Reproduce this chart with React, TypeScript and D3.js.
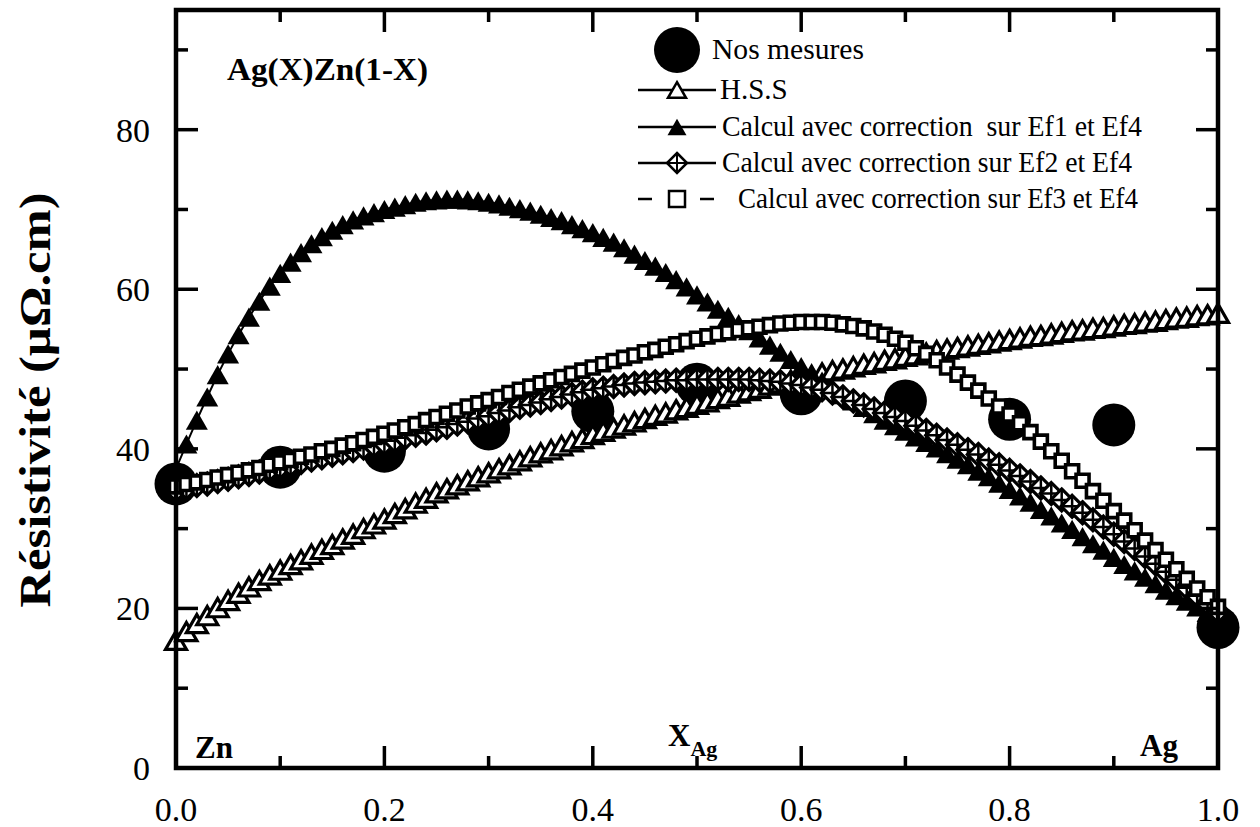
import React from 'react';
import * as d3 from 'd3';

// ---------- data ----------
const measuredX = [0, 0.1, 0.2, 0.3, 0.4, 0.5, 0.6, 0.7, 0.8, 0.9, 1.0];
const measuredY = [35.6, 37.7, 39.7, 42.5, 44.7, 48.1, 46.9, 46.0, 43.7, 43.0, 17.6];

// composition grid of the calculated curves (step 0.01)
const calcX = d3.range(101).map((i) => i / 100);

const hss = [16.0,17.1,18.1,19.1,20.1,21.0,21.9,22.7,23.5,24.2,24.8,
  25.5,26.1,26.8,27.4,28.0,28.7,29.3,30.0,30.6,31.2,
  31.9,32.5,33.2,33.8,34.5,35.0,35.5,36.0,36.5,37.0,
  37.5,38.0,38.5,39.0,39.5,39.9,40.4,40.9,41.3,41.8,
  42.2,42.6,43.0,43.4,43.8,44.2,44.5,44.9,45.2,45.6,
  45.9,46.3,46.6,47.0,47.3,47.6,48.0,48.3,48.6,48.9,
  49.2,49.5,49.8,50.0,50.3,50.6,50.8,51.1,51.3,51.6,
  51.8,52.0,52.3,52.5,52.7,52.9,53.1,53.3,53.5,53.7,
  53.9,54.1,54.2,54.4,54.6,54.8,54.9,55.1,55.2,55.4,
  55.6,55.7,55.9,56.0,56.2,56.4,56.5,56.7,56.8,57.0];

const ef1 = [37.5,40.6,43.6,46.5,49.3,51.9,54.3,56.5,58.5,60.4,62.0,
  63.4,64.6,65.7,66.6,67.4,68.1,68.7,69.2,69.6,70.0,
  70.3,70.6,70.9,71.1,71.2,71.3,71.3,71.2,71.1,70.9,
  70.7,70.4,70.1,69.8,69.4,69.0,68.6,68.1,67.6,67.1,
  66.5,65.9,65.2,64.4,63.6,62.9,62.1,61.2,60.3,59.3,
  58.4,57.5,56.6,55.7,54.8,53.9,53.0,52.1,51.2,50.3,
  49.4,48.5,47.6,46.8,46.0,45.2,44.4,43.6,42.9,42.2,
  41.5,40.8,40.1,39.4,38.7,38.0,37.2,36.5,35.7,34.9,
  34.1,33.3,32.4,31.6,30.7,29.9,29.0,28.1,27.3,26.4,
  25.5,24.7,23.9,23.1,22.3,21.6,20.9,20.2,19.5,18.8];

const ef2 = [34.8,35.1,35.4,35.6,35.9,36.2,36.5,36.8,37.1,37.4,37.7,
  38.0,38.3,38.6,38.9,39.2,39.5,39.8,40.1,40.4,40.7,
  41.0,41.4,41.7,42.0,42.4,42.7,43.1,43.4,43.8,44.1,
  44.5,44.8,45.2,45.5,45.8,46.2,46.5,46.8,47.1,47.4,
  47.6,47.8,48.0,48.2,48.3,48.4,48.5,48.6,48.6,48.7,
  48.7,48.7,48.7,48.7,48.7,48.6,48.5,48.4,48.2,48.0,
  47.7,47.4,47.0,46.5,46.0,45.5,45.0,44.5,44.0,43.5,
  42.9,42.3,41.7,41.1,40.5,39.9,39.3,38.6,38.0,37.3,
  36.6,35.9,35.1,34.4,33.6,32.8,32.0,31.1,30.2,29.3,
  28.4,27.5,26.5,25.6,24.6,23.6,22.6,21.6,20.6,19.6];

const ef3 = [35.3,35.6,35.8,36.1,36.4,36.7,37.0,37.3,37.6,38.0,38.3,
  38.6,39.0,39.3,39.7,40.0,40.4,40.7,41.1,41.5,41.9,
  42.3,42.7,43.1,43.6,44.0,44.4,44.8,45.3,45.7,46.1,
  46.5,47.0,47.4,47.8,48.2,48.6,49.0,49.4,49.8,50.2,
  50.6,51.0,51.4,51.7,52.1,52.4,52.8,53.1,53.5,53.8,
  54.1,54.4,54.6,54.9,55.1,55.3,55.5,55.7,55.8,55.9,
  55.9,55.9,55.8,55.6,55.4,55.1,54.7,54.3,53.8,53.3,
  52.6,51.9,51.1,50.2,49.3,48.3,47.3,46.3,45.3,44.3,
  43.2,42.1,40.9,39.7,38.5,37.2,36.0,34.7,33.5,32.2,
  31.0,29.8,28.5,27.3,26.1,24.9,23.7,22.5,21.4,20.2];

const xTicksMajor = [0, 0.2, 0.4, 0.6, 0.8, 1.0];
const xTicksMinor = [0.1, 0.3, 0.5, 0.7, 0.9];
const xTickLabels = ['0.0', '0.2', '0.4', '0.6', '0.8', '1.0'];
const yTicksMajor = [0, 20, 40, 60, 80];
const yTicksMinor = [10, 30, 50, 70, 90];
const yTickLabels = ['0', '20', '40', '60', '80'];

const legendLabels = [
  'Nos mesures',
  'H.S.S',
  'Calcul avec correction  sur Ef1 et Ef4',
  'Calcul avec correction sur Ef2 et Ef4',
  'Calcul avec correction sur Ef3 et Ef4',
];

const FONT = '"Liberation Serif", "Times New Roman", Times, serif';

function triPath(cx: number, cy: number, s: number) {
  const h = s * 0.87;
  return `M${cx},${cy - h / 2}L${cx + s / 2},${cy + h / 2}L${cx - s / 2},${cy + h / 2}Z`;
}
function diaPath(cx: number, cy: number, r: number) {
  return `M${cx},${cy - r}L${cx + r},${cy}L${cx},${cy + r}L${cx - r},${cy}Z`;
}
function crossPath(cx: number, cy: number, r: number) {
  return `M${cx - r},${cy}H${cx + r}M${cx},${cy - r}V${cy + r}`;
}
function sqPath(cx: number, cy: number, s: number) {
  return `M${cx - s / 2},${cy - s / 2}h${s}v${s}h${-s}Z`;
}

export default function App() {
  const x = d3.scaleLinear().domain([0, 1]).range([176, 1218]);
  const y = d3.scaleLinear().domain([0, 95]).range([768, 10]);
  const [x0, x1] = x.range();
  const [yb, yt] = y.range();

  const pts = (vals: number[]) => calcX.map((v, i) => [x(v), y(vals[i])] as [number, number]);
  const line = d3.line<[number, number]>();

  const hssP = pts(hss);
  const ef1P = pts(ef1);
  const ef2P = pts(ef2);
  const ef3P = pts(ef3);

  const legX = 677;
  const legRows = [50, 90, 127, 163, 199];

  return (
    <svg width={1260} height={827} style={{ position: 'absolute', left: 0, top: 0, background: '#fff' }}
      fontFamily={FONT}>
      <rect x={0} y={0} width={1260} height={827} fill="#fff" />

      {/* measured points */}
      {measuredX.map((v, i) => (
        <circle key={'m' + i} cx={x(v)} cy={y(measuredY[i])} r={21.5} fill="#000" />
      ))}

      {/* H.S.S */}
      <path d={line(hssP) || ''} fill="none" stroke="#000" strokeWidth={2} />
      {hssP.map(([px, py], i) => (
        <path key={'h' + i} d={triPath(px, py, 21)} fill="#fff" stroke="#000" strokeWidth={3.2} strokeLinejoin="miter" />
      ))}

      {/* Ef1 */}
      <path d={line(ef1P) || ''} fill="none" stroke="#000" strokeWidth={2} />
      {ef1P.map(([px, py], i) => (
        <path key={'a' + i} d={triPath(px, py, 22)} fill="#000" />
      ))}

      {/* Ef2 */}
      <path d={line(ef2P) || ''} fill="none" stroke="#000" strokeWidth={2} />
      {ef2P.map(([px, py], i) => (
        <g key={'b' + i}>
          <path d={diaPath(px, py, 11)} fill="#fff" stroke="#000" strokeWidth={3.2} />
          <path d={crossPath(px, py, 11)} stroke="#000" strokeWidth={2.5} />
        </g>
      ))}

      {/* Ef3 */}
      <path d={line(ef3P) || ''} fill="none" stroke="#000" strokeWidth={2} strokeDasharray="6,6" />
      {ef3P.map(([px, py], i) => (
        <path key={'c' + i} d={sqPath(px, py, 13)} fill="#fff" stroke="#000" strokeWidth={3.6} />
      ))}

      {/* frame */}
      <rect x={x0} y={yt} width={x1 - x0} height={yb - yt} fill="none" stroke="#000" strokeWidth={4.5} />

      {/* ticks */}
      {xTicksMajor.map((v) => (
        <g key={'xt' + v}>
          <line x1={x(v)} x2={x(v)} y1={yb} y2={yb - 22} stroke="#000" strokeWidth={3.5} />
          <line x1={x(v)} x2={x(v)} y1={yt} y2={yt + 22} stroke="#000" strokeWidth={3.5} />
        </g>
      ))}
      {xTicksMinor.map((v) => (
        <g key={'xm' + v}>
          <line x1={x(v)} x2={x(v)} y1={yb} y2={yb - 12} stroke="#000" strokeWidth={3.5} />
          <line x1={x(v)} x2={x(v)} y1={yt} y2={yt + 12} stroke="#000" strokeWidth={3.5} />
        </g>
      ))}
      {yTicksMajor.map((v) => (
        <g key={'yt' + v}>
          <line x1={x0} x2={x0 + 22} y1={y(v)} y2={y(v)} stroke="#000" strokeWidth={3.5} />
          <line x1={x1} x2={x1 - 22} y1={y(v)} y2={y(v)} stroke="#000" strokeWidth={3.5} />
        </g>
      ))}
      {yTicksMinor.map((v) => (
        <g key={'ym' + v}>
          <line x1={x0} x2={x0 + 12} y1={y(v)} y2={y(v)} stroke="#000" strokeWidth={3.5} />
          <line x1={x1} x2={x1 - 12} y1={y(v)} y2={y(v)} stroke="#000" strokeWidth={3.5} />
        </g>
      ))}

      {/* tick labels */}
      {xTicksMajor.map((v, i) => (
        <text key={'xl' + v} x={x(v)} y={821} textAnchor="middle" fontSize={34}>{xTickLabels[i]}</text>
      ))}
      {yTicksMajor.map((v, i) => (
        <text key={'yl' + v} x={150} y={y(v) + 12} textAnchor="end" fontSize={34}>{yTickLabels[i]}</text>
      ))}

      {/* axis title */}
      <text transform="translate(50,400) rotate(-90)" textAnchor="middle" fontSize={44} fontWeight="bold"
        textLength={415} lengthAdjust="spacingAndGlyphs">Résistivité (µΩ.cm)</text>

      {/* annotations */}
      <text x={227} y={80} fontSize={32} fontWeight="bold" textLength={201} lengthAdjust="spacingAndGlyphs">Ag(X)Zn(1-X)</text>
      <text x={195} y={758} fontSize={31} fontWeight="bold">Zn</text>
      <text x={668} y={746} fontSize={31} fontWeight="bold">X<tspan fontSize={22} dy={10}>Ag</tspan></text>
      <text x={1140} y={756} fontSize={31} fontWeight="bold">Ag</text>

      {/* legend */}
      <circle cx={legX} cy={legRows[0]} r={23} fill="#000" />
      <text x={712} y={legRows[0] + 9} fontSize={29} textLength={152} lengthAdjust="spacingAndGlyphs">{legendLabels[0]}</text>

      <line x1={638} x2={716} y1={legRows[1]} y2={legRows[1]} stroke="#000" strokeWidth={2.5} />
      <path d={triPath(legX, legRows[1], 18)} fill="#fff" stroke="#000" strokeWidth={2.5} />
      <text x={720} y={legRows[1] + 9} fontSize={29}>{legendLabels[1]}</text>

      <line x1={638} x2={716} y1={legRows[2]} y2={legRows[2]} stroke="#000" strokeWidth={2.5} />
      <path d={triPath(legX, legRows[2], 19)} fill="#000" />
      <text x={722} y={legRows[2] + 9} fontSize={29} style={{ whiteSpace: 'pre' }} textLength={420} lengthAdjust="spacingAndGlyphs">{legendLabels[2]}</text>

      <line x1={638} x2={716} y1={legRows[3]} y2={legRows[3]} stroke="#000" strokeWidth={2.5} />
      <path d={diaPath(legX, legRows[3], 10)} fill="#fff" stroke="#000" strokeWidth={2.5} />
      <path d={crossPath(legX, legRows[3], 10)} stroke="#000" strokeWidth={2} />
      <text x={722} y={legRows[3] + 9} fontSize={29} textLength={410} lengthAdjust="spacingAndGlyphs">{legendLabels[3]}</text>

      <line x1={638} x2={652} y1={legRows[4]} y2={legRows[4]} stroke="#000" strokeWidth={2.5} />
      <line x1={700} x2={714} y1={legRows[4]} y2={legRows[4]} stroke="#000" strokeWidth={2.5} />
      <path d={sqPath(legX, legRows[4], 16)} fill="#fff" stroke="#000" strokeWidth={2.5} />
      <text x={738} y={legRows[4] + 9} fontSize={29} textLength={400} lengthAdjust="spacingAndGlyphs">{legendLabels[4]}</text>
    </svg>
  );
}
